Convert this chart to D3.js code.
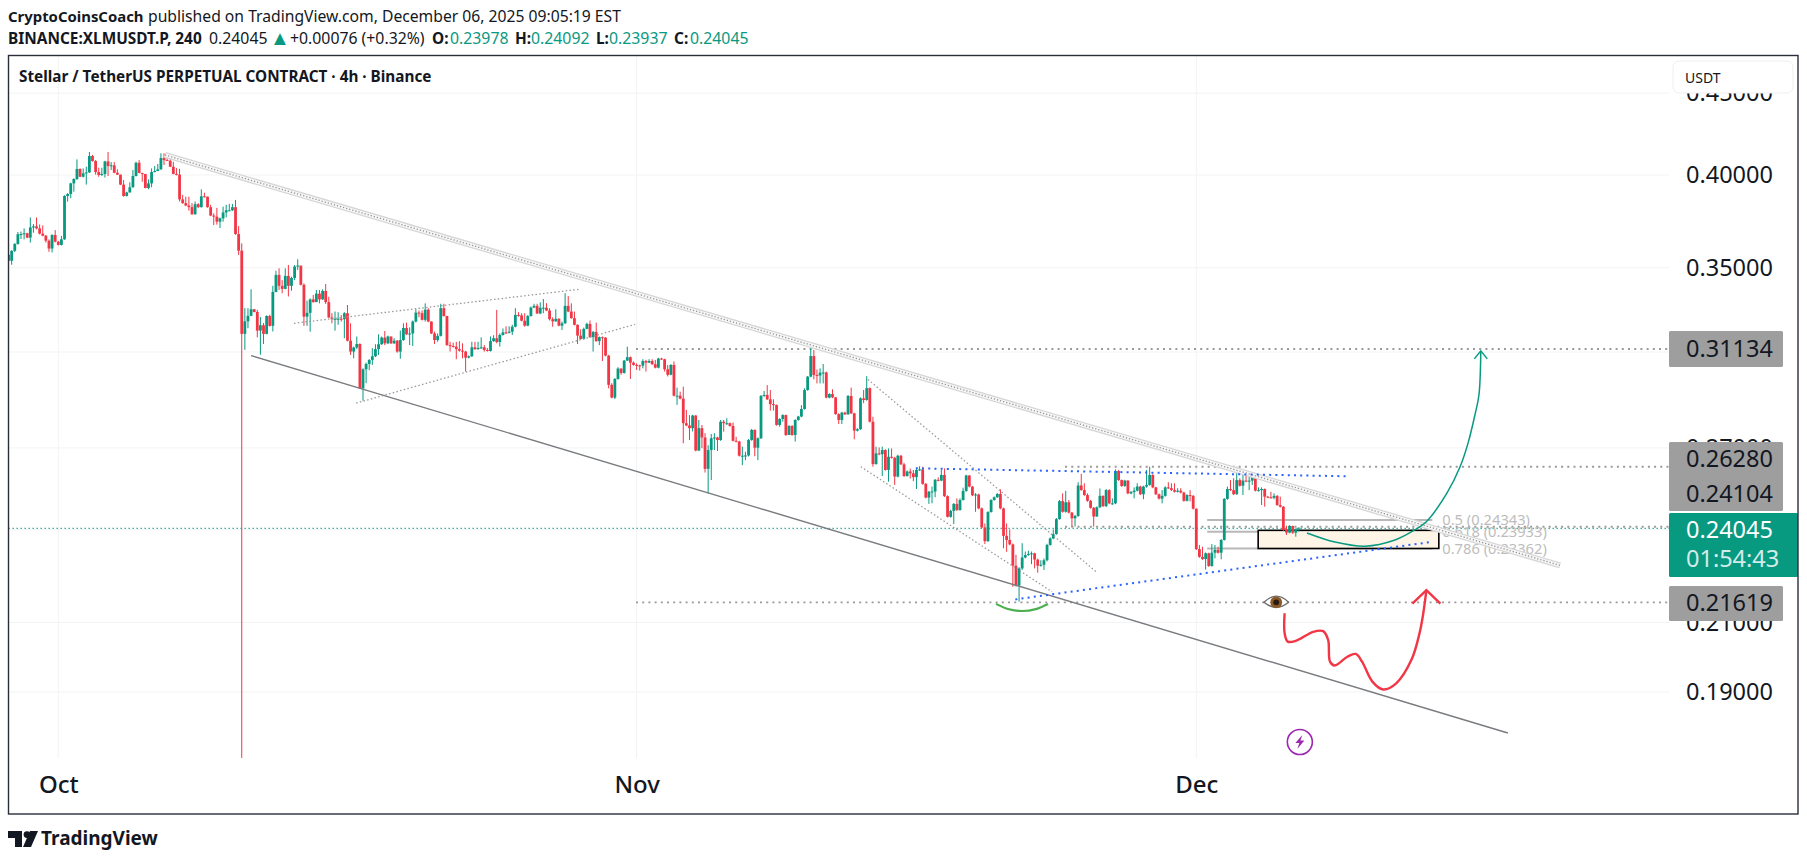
<!DOCTYPE html>
<html>
<head>
<meta charset="utf-8">
<title>XLMUSDT.P 4h</title>
<script src="https://cdn.jsdelivr.net/npm/d3@7"></script>
<style>
html, body { margin: 0; background: #fff; }
svg { display: block; }
text { font-family: "Noto Sans", sans-serif; }
</style>
</head>
<body>
<svg id="chart" width="1807" height="861"></svg>
<script>
// 4h candles, one close / high / low per bar (open = previous close)
var firstOpen = .3566;
var closes = [
.3535,.3586,.3622,.3673,.3674,.3678,.3655,.3709,.3715,.3704,
.3676,.3665,.3639,.3598,.3669,.3634,.3617,.3646,.3881,.3892,
.3952,.3977,.4035,.3990,.4010,.4015,.4111,.4081,.4017,.4000,
.4006,.4079,.4052,.4056,.4013,.4002,.3945,.3881,.3901,.3930,
.3994,.4071,.4012,.4006,.3926,.3952,.4017,.4023,.4033,.4099,
.4087,.4083,.4048,.4006,.4002,.3862,.3841,.3828,.3819,.3780,
.3835,.3819,.3879,.3877,.3819,.3773,.3767,.3740,.3758,.3790,
.3802,.3802,.3819,.3674,.3587,.3182,.3240,.3266,.3297,.3284,
.3197,.3222,.3182,.3265,.3219,.3380,.3464,.3410,.3395,.3459,
.3410,.3449,.3506,.3511,.3415,.3262,.3280,.3344,.3331,.3372,
.3344,.3385,.3331,.3258,.3250,.3252,.3252,.3250,.3278,.3151,
.3102,.3120,.3136,.2942,.3024,.3047,.3065,.3081,.3113,.3135,
.3165,.3139,.3170,.3139,.3151,.3102,.3154,.3209,.3180,.3184,
.3239,.3281,.3278,.3247,.3295,.3239,.3184,.3154,.3173,.3302,
.3265,.3131,.3127,.3124,.3113,.3106,.3102,.3075,.3081,.3121,
.3113,.3118,.3121,.3109,.3105,.3149,.3162,.3145,.3177,.3189,
.3187,.3192,.3215,.3270,.3268,.3243,.3220,.3265,.3305,.3313,
.3277,.3304,.3304,.3291,.3250,.3240,.3252,.3220,.3231,.3313,
.3286,.3255,.3224,.3174,.3159,.3205,.3228,.3167,.3191,.3149,
.3167,.3165,.3084,.2957,.2903,.2982,.3027,.3008,.3062,.3077,
.3053,.3043,.3041,.3040,.3060,.3053,.3060,.3046,.3031,.3071,
.3068,.3024,.3000,.3043,.2911,.2911,.2899,.2798,.2789,.2778,
.2829,.2690,.2778,.2741,.2620,.2692,.2738,.2741,.2731,.2804,
.2798,.2798,.2787,.2728,.2725,.2670,.2670,.2671,.2731,.2771,
.2701,.2738,.2910,.2914,.2896,.2876,.2872,.2791,.2815,.2831,
.2751,.2787,.2751,.2811,.2825,.2856,.2935,.2992,.3082,.2999,
.2997,.3009,.3010,.2903,.2918,.2904,.2835,.2811,.2841,.2834,
.2910,.2838,.2768,.2774,.2900,.2893,.2943,.2804,.2638,.2679,
.2676,.2692,.2616,.2666,.2662,.2591,.2670,.2637,.2593,.2610,
.2603,.2589,.2616,.2618,.2564,.2514,.2535,.2536,.2579,.2576,
.2597,.2519,.2445,.2466,.2491,.2469,.2505,.2538,.2595,.2554,
.2522,.2525,.2475,.2408,.2361,.2462,.2505,.2515,.2527,.2475,
.2379,.2365,.2350,.2279,.2215,.2270,.2306,.2314,.2318,.2320,
.2299,.2279,.2282,.2297,.2348,.2370,.2385,.2437,.2501,.2463,
.2497,.2460,.2440,.2448,.2558,.2541,.2523,.2502,.2477,.2446,
.2479,.2520,.2483,.2541,.2493,.2493,.2612,.2578,.2556,.2576,
.2529,.2534,.2539,.2554,.2526,.2554,.2560,.2597,.2551,.2526,
.2510,.2520,.2551,.2548,.2541,.2535,.2539,.2532,.2502,.2523,
.2520,.2474,.2334,.2308,.2301,.2320,.2278,.2322,.2331,.2322,
.2365,.2509,.2545,.2541,.2526,.2578,.2557,.2576,.2575,.2576,
.2593,.2539,.2541,.2545,.2517,.2515,.2513,.2520,.2487,.2481,
.2399,.2390,.2413,.2390,.2402,.24045];
var highs = [
.3566,.3590,.3626,.3685,.3687,.3704,.3681,.3763,.3727,.3763,
.3725,.3720,.3669,.3646,.3673,.3695,.3638,.3664,.3885,.3897,
.3956,.3981,.4091,.4038,.4038,.4048,.4135,.4117,.4087,.4042,
.4042,.4083,.4135,.4075,.4075,.4033,.4002,.3971,.3905,.3958,
.4029,.4077,.4087,.4012,.4006,.3975,.4038,.4052,.4064,.4127,
.4127,.4117,.4103,.4077,.4040,.4036,.3887,.3877,.3877,.3841,
.3850,.3841,.3918,.3899,.3877,.3832,.3785,.3815,.3762,.3822,
.3832,.3837,.3837,.3859,.3716,.3625,.3302,.3302,.3393,.3297,
.3294,.3260,.3232,.3268,.3271,.3410,.3485,.3497,.3438,.3497,
.3514,.3455,.3514,.3543,.3456,.3422,.3338,.3349,.3365,.3390,
.3390,.3393,.3419,.3357,.3278,.3286,.3283,.3270,.3283,.3317,
.3231,.3124,.3170,.3139,.3028,.3053,.3068,.3117,.3135,.3180,
.3170,.3195,.3174,.3170,.3162,.3154,.3197,.3231,.3234,.3212,
.3244,.3297,.3291,.3291,.3325,.3302,.3240,.3192,.3184,.3323,
.3323,.3266,.3146,.3142,.3146,.3149,.3139,.3105,.3085,.3146,
.3146,.3146,.3166,.3131,.3118,.3170,.3176,.3294,.3184,.3207,
.3217,.3217,.3224,.3302,.3283,.3278,.3278,.3270,.3310,.3323,
.3323,.3330,.3346,.3326,.3302,.3259,.3297,.3254,.3239,.3374,
.3360,.3325,.3286,.3226,.3203,.3211,.3234,.3244,.3195,.3234,
.3170,.3170,.3167,.3087,.2964,.2986,.3033,.3028,.3065,.3124,
.3080,.3058,.3050,.3044,.3068,.3065,.3068,.3068,.3065,.3074,
.3074,.3070,.3043,.3046,.3058,.2945,.2928,.2949,.2852,.2831,
.2832,.2831,.2811,.2791,.2758,.2711,.2755,.2758,.2744,.2811,
.2811,.2818,.2801,.2801,.2744,.2728,.2705,.2685,.2735,.2775,
.2773,.2741,.2914,.2931,.2956,.2935,.2896,.2874,.2818,.2834,
.2833,.2790,.2790,.2814,.2828,.2872,.2942,.2995,.3116,.3109,
.3023,.3028,.3047,.3014,.2921,.2938,.2906,.2838,.2844,.2845,
.2914,.2945,.2840,.2778,.2904,.2935,.2994,.2946,.2824,.2705,
.2702,.2705,.2695,.2698,.2698,.2666,.2674,.2673,.2643,.2614,
.2621,.2616,.2619,.2630,.2628,.2567,.2538,.2554,.2582,.2588,
.2616,.2622,.2522,.2470,.2494,.2511,.2511,.2550,.2598,.2597,
.2556,.2530,.2528,.2478,.2422,.2465,.2508,.2518,.2530,.2544,
.2478,.2422,.2401,.2353,.2315,.2274,.2354,.2326,.2329,.2326,
.2322,.2302,.2297,.2303,.2352,.2374,.2401,.2441,.2505,.2529,
.2538,.2505,.2462,.2452,.2570,.2601,.2566,.2529,.2505,.2480,
.2482,.2547,.2522,.2545,.2544,.2511,.2618,.2616,.2580,.2579,
.2578,.2538,.2551,.2566,.2557,.2557,.2616,.2628,.2600,.2553,
.2528,.2541,.2555,.2570,.2566,.2566,.2548,.2548,.2535,.2526,
.2541,.2523,.2475,.2348,.2342,.2323,.2322,.2351,.2348,.2342,
.2368,.2512,.2554,.2578,.2585,.2628,.2585,.2603,.2607,.2610,
.2603,.2597,.2551,.2551,.2547,.2520,.2535,.2529,.2523,.2517,
.2483,.2414,.2416,.2414,.2405,.24092];
var lows = [
.3530,.3515,.3580,.3618,.3648,.3646,.3652,.3629,.3681,.3699,
.3672,.3662,.3629,.3581,.3578,.3630,.3614,.3614,.3644,.3850,
.3868,.3905,.3971,.3988,.3986,.3945,.4012,.4078,.4002,.3990,
.3994,.3985,.3994,.4029,.4010,.4000,.3942,.3877,.3878,.3900,
.3928,.3992,.4010,.3961,.3924,.3919,.3930,.4015,.4022,.4030,
.4058,.4082,.4046,.4004,.3998,.3850,.3838,.3825,.3800,.3778,
.3778,.3815,.3817,.3874,.3816,.3770,.3722,.3724,.3706,.3740,
.3763,.3797,.3798,.3670,.3565,.1728,.3110,.3208,.3264,.3282,
.3166,.3088,.3136,.3180,.3216,.3193,.3378,.3390,.3374,.3393,
.3358,.3386,.3438,.3489,.3412,.3219,.3219,.3192,.3328,.3333,
.3325,.3342,.3322,.3255,.3231,.3197,.3224,.3239,.3162,.3148,
.3087,.3072,.3113,.2940,.2890,.2964,.3020,.3043,.3078,.3087,
.3132,.3131,.3136,.3136,.3136,.3097,.3070,.3150,.3177,.3131,
.3127,.3235,.3259,.3244,.3239,.3236,.3181,.3136,.3146,.3170,
.3262,.3128,.3102,.3120,.3068,.3102,.3072,.3014,.3072,.3078,
.3110,.3110,.3114,.3102,.3102,.3102,.3146,.3139,.3124,.3174,
.3181,.3184,.3177,.3212,.3262,.3240,.3215,.3217,.3262,.3302,
.3274,.3274,.3278,.3288,.3244,.3215,.3238,.3217,.3200,.3228,
.3283,.3252,.3221,.3136,.3156,.3156,.3203,.3164,.3102,.3146,
.3131,.3060,.3081,.2942,.2900,.2897,.2979,.3000,.3005,.3060,
.2982,.3040,.3021,.3018,.3028,.3014,.3051,.3043,.3028,.3028,
.3065,.3014,.2993,.2998,.2908,.2873,.2896,.2718,.2786,.2731,
.2765,.2687,.2688,.2699,.2606,.2529,.2578,.2692,.2688,.2728,
.2764,.2791,.2784,.2725,.2722,.2667,.2634,.2653,.2667,.2728,
.2668,.2653,.2735,.2906,.2893,.2849,.2849,.2788,.2784,.2804,
.2747,.2751,.2748,.2725,.2808,.2822,.2853,.2932,.2989,.2980,
.2963,.2963,.2963,.2900,.2900,.2901,.2832,.2795,.2795,.2831,
.2832,.2835,.2734,.2765,.2771,.2880,.2890,.2801,.2628,.2636,
.2672,.2593,.2613,.2572,.2659,.2560,.2588,.2634,.2590,.2591,
.2584,.2574,.2545,.2612,.2561,.2511,.2491,.2493,.2515,.2573,
.2574,.2516,.2443,.2442,.2420,.2466,.2467,.2503,.2535,.2551,
.2519,.2463,.2472,.2405,.2351,.2358,.2460,.2503,.2513,.2472,
.2337,.2325,.2347,.2211,.2212,.2164,.2265,.2303,.2312,.2284,
.2270,.2256,.2276,.2265,.2293,.2346,.2368,.2383,.2435,.2460,
.2460,.2457,.2411,.2411,.2445,.2539,.2520,.2499,.2474,.2411,
.2446,.2476,.2480,.2480,.2490,.2488,.2490,.2575,.2553,.2553,
.2526,.2526,.2511,.2536,.2523,.2508,.2550,.2557,.2548,.2523,
.2507,.2493,.2517,.2545,.2538,.2532,.2532,.2529,.2499,.2500,
.2500,.2471,.2331,.2305,.2298,.2266,.2275,.2276,.2303,.2319,
.2300,.2363,.2506,.2538,.2523,.2524,.2554,.2523,.2570,.2541,
.2560,.2536,.2536,.2487,.2481,.2512,.2510,.2508,.2484,.2478,
.2396,.2382,.2388,.2386,.2376,.23937];

// axes
var priceTicks = [.45, .40, .35, .31, .27, .24, .21, .19];
var monthBars = [16, 202, 382];
var monthNames = ["Oct", "Nov", "Dec"];

// levels and drawings, as [bar, price]
var lastPrice = .24045;
var levelTop = .26280, levelMid = .24104, levelLow = .21619, levelHigh = .31134;
var fibLevels = [.24343, .23933, .23362];
var fibLabels = ["0.5 (0.24343)", "0.618 (0.23933)", "0.786 (0.23362)"];
var fibBars = [385.5, 457.9];
var zoneBox = [[401.9, .2398], [460, .23362]];
var mainTrend = [[50.3, .4117], [499, .2280]];
var channelLine = [[78, .3084], [482.2, .1791]];
var wedgeUpper = [[91.8, .3231], [183.5, .3393]];
var wedgeLower = [[111.8, .2880], [201.5, .3226]];
var fallUpper = [[276.4, .2980], [349.7, .2260]];
var fallLower = [[274.1, .2628], [335.6, .2195]];
var blueTop = [[291.8, .2622], [431, .2592]];
var blueLow = [[323.8, .2171], [458.1, .2359]];
var greenSmile = [[317.6, .2157], [321.4, .2141], [326, .2135], [330.4, .2141], [334.3, .2157]];
var upCurve = [[417.6, .2389], [426.6, .2358], [436.3, .2344], [445.9, .2365], [451.7, .2396], [455.9, .2427],
    [462.6, .2530], [466.8, .2627], [469.4, .2719], [471.6, .2831], [472.9, .2914], [473.5, .3105]];
var redPath = [[410.4, .2128], [410.4, .2068], [411.4, .2043], [414.2, .2046], [419.6, .2072], [422.8, .2074],
    [424.4, .2048], [425, .1985], [426.5, .1974], [430.6, .1999], [433.3, .2007], [435.3, .1985], [438.7, .1928],
    [442.1, .1907], [446.3, .1924], [451.2, .1990], [453.8, .2068], [455, .2128], [456, .2200]];
var eyeSpot = [407.7, .21619];
var boltSpot = [415.3, .1768];

var opens = closes.map(function(c, i) { return i === 0 ? firstOpen : closes[i - 1]; });

var GREEN = "#089981", RED = "#F23645", INK = "#131722", GRID = "#f2f3f4", TAG = "#9e9e9e";
var paneRight = 1669, paneTop = 56, paneBottom = 758;

var svg = d3.select("#chart");

// log price scale and bar scale
var y = d3.scaleLog().domain([.40, .19]).range([175, 692]);
var x = d3.scaleLinear().domain([16, 382]).range([58.3, 1196.3]);

function px(p) { return x(p[0]); }
function py(p) { return y(p[1]); }
var straight = d3.line().x(px).y(py);
var smooth = d3.line().x(px).y(py).curve(d3.curveCatmullRom.alpha(0.5));

svg.append("clipPath").attr("id", "pane").append("rect")
    .attr("x", 9).attr("y", paneTop).attr("width", paneRight - 9).attr("height", paneBottom - paneTop);

// grid
svg.append("g").selectAll("line").data(priceTicks).enter().append("line")
    .attr("x1", 9).attr("x2", paneRight)
    .attr("y1", function(d) { return y(d); }).attr("y2", function(d) { return y(d); })
    .attr("stroke", GRID).attr("stroke-width", 1);
svg.append("g").selectAll("line").data(monthBars).enter().append("line")
    .attr("y1", paneTop).attr("y2", paneBottom)
    .attr("x1", function(d) { return x(d); }).attr("x2", function(d) { return x(d); })
    .attr("stroke", GRID).attr("stroke-width", 1);

// price axis, the tags and the USDT button sit on top of part of it
var yAxis = svg.append("g").attr("transform", "translate(1686,0)")
    .call(d3.axisRight(y).tickValues(priceTicks).tickFormat(d3.format(".5f")).tickSize(0).tickPadding(0));
yAxis.select(".domain").remove();
yAxis.selectAll("text").attr("fill", INK).style("font-size", "23.5px").style("font-family", "'Noto Sans'");

// month axis
var xAxis = svg.append("g").attr("transform", "translate(0,776)")
    .call(d3.axisBottom(x).tickValues(monthBars)
        .tickFormat(function(d, i) { return monthNames[i]; }).tickSize(0).tickPadding(0));
xAxis.select(".domain").remove();
xAxis.selectAll("text").attr("fill", INK).style("font-size", "24px").style("font-weight", "500").style("font-family", "'Noto Sans'");

// level lines
function level(price, fromBar, color, width, dash) {
    svg.append("line")
        .attr("x1", x(fromBar)).attr("x2", paneRight)
        .attr("y1", y(price)).attr("y2", y(price))
        .attr("stroke", color).attr("stroke-width", width).attr("stroke-dasharray", dash);
}
level(lastPrice, 0, GREEN, 1.2, "1.2 2.8");
level(levelHigh, 201.8, "#9a9a9a", 1.8, "2 4.2");
level(levelLow, 201.8, "#9a9a9a", 1.8, "2 4.2");
level(levelTop, 339.8, "#9a9a9a", 1.8, "2 4.2");
level(levelMid, 339.8, "#9a9a9a", 1.8, "2 4.2");

// candles
var bars = closes.map(function(c, i) { return { i: i, o: opens[i], h: highs[i], l: lows[i], c: c }; });
var candles = svg.append("g").attr("clip-path", "url(#pane)");
candles.selectAll(".wick").data(bars).enter().append("line")
    .attr("class", "wick")
    .attr("x1", function(d) { return x(d.i); }).attr("x2", function(d) { return x(d.i); })
    .attr("y1", function(d) { return y(d.h); }).attr("y2", function(d) { return y(d.l); })
    .attr("stroke", function(d) { return d.c >= d.o ? GREEN : RED; })
    .attr("stroke-width", 1);
candles.selectAll(".body").data(bars).enter().append("rect")
    .attr("class", "body")
    .attr("x", function(d) { return x(d.i) - 1.4; })
    .attr("width", 2.8)
    .attr("y", function(d) { return y(Math.max(d.o, d.c)); })
    .attr("height", function(d) { return Math.max(1, Math.abs(y(d.o) - y(d.c))); })
    .attr("fill", function(d) { return d.c >= d.o ? GREEN : RED; });

// fib lines and box
svg.append("g").selectAll("line").data(fibLevels).enter().append("line")
    .attr("x1", x(fibBars[0])).attr("x2", x(fibBars[1]))
    .attr("y1", function(d) { return y(d); }).attr("y2", function(d) { return y(d); })
    .attr("stroke", "#b8b8b8").attr("stroke-width", 2);
svg.append("rect")
    .attr("x", x(zoneBox[0][0])).attr("y", y(zoneBox[0][1]))
    .attr("width", x(zoneBox[1][0]) - x(zoneBox[0][0]))
    .attr("height", y(zoneBox[1][1]) - y(zoneBox[0][1]))
    .attr("fill", "#fff5e7").attr("stroke", "#000").attr("stroke-width", 1.6);
// candles of the last few bars stay above the box
candles.raise();
svg.append("g").selectAll("text").data(fibLabels).enter().append("text")
    .attr("x", x(fibBars[1]) + 10)
    .attr("y", function(d, i) { return y(fibLevels[i]) + 5.5; })
    .attr("fill", "#bdbdbd").style("font-size", "14.7px")
    .text(function(d) { return d; });

// main falling trend, light band with a dotted core
function addPath(pts, gen, color, width, dash) {
    return svg.append("path").datum(pts).attr("d", gen).attr("fill", "none")
        .attr("stroke", color).attr("stroke-width", width).attr("stroke-dasharray", dash || null);
}
addPath(mainTrend, straight, "#d6d6d6", 6);
addPath(mainTrend, straight, "#f8f8f8", 3.4);
addPath(mainTrend, straight, "#949494", 1.3, "1.3 1.9");

addPath(channelLine, straight, "#787b7f", 1.4);
addPath(wedgeUpper, straight, "#9a9a9a", 1.3, "1.5 2.3");
addPath(wedgeLower, straight, "#9a9a9a", 1.3, "1.5 2.3");
addPath(fallUpper, straight, "#9a9a9a", 1.3, "1.5 2.3");
addPath(fallLower, straight, "#9a9a9a", 1.3, "1.5 2.3");
addPath(blueTop, straight, "#2962ff", 2, "2 4.2");
addPath(blueLow, straight, "#2962ff", 2, "2 4.2");
addPath(greenSmile, smooth, "#4caf50", 2.2);
addPath(upCurve, smooth, GREEN, 1.5);
addPath(redPath, smooth, RED, 2.4);

// arrow heads at the curve tips
function arrowHead(tip, dx, dy, color, width) {
    var tx = px(tip), ty = py(tip);
    svg.append("path").datum([[tx - dx, ty + dy], [tx, ty], [tx + dx, ty + dy]])
        .attr("d", d3.line()).attr("fill", "none")
        .attr("stroke", color).attr("stroke-width", width);
}
arrowHead(upCurve[upCurve.length - 1], 6.5, 8, GREEN, 1.5);
arrowHead(redPath[redPath.length - 1], 14, 13.5, RED, 2.4);

// eye marker
var eye = svg.append("g").attr("transform", "translate(" + px(eyeSpot) + "," + py(eyeSpot) + ") scale(1.12)");
eye.append("path").attr("d", "M-11,0 Q0,-11 11,0 Q0,9 -11,0Z").attr("fill", "#fff").attr("stroke", "#6b6b6b").attr("stroke-width", 1.2);
eye.append("circle").attr("r", 5.3).attr("fill", "#8a5a2b");
eye.append("circle").attr("r", 2.6).attr("fill", "#2a1a10");

// purple bolt marker
var bolt = svg.append("g").attr("transform", "translate(" + px(boltSpot) + "," + py(boltSpot) + ")");
bolt.append("ellipse").attr("rx", 12.5).attr("ry", 12.5).attr("fill", "#fff").attr("stroke", "#9c27b0").attr("stroke-width", 1.6);
bolt.append("path").attr("d", "M2.5,-7 L-4.5,1 L-0.5,1 L-2.5,7 L4.5,-1.5 L0.5,-1.5Z").attr("fill", "#9c27b0");

// price tags
function tagBox(top, bottom, right, color) {
    svg.append("rect").attr("x", paneRight).attr("y", top)
        .attr("width", right - paneRight).attr("height", bottom - top)
        .attr("rx", 1.5).attr("fill", color);
}
function tagText(label, cy, color, opacity) {
    svg.append("text").attr("x", 1686).attr("y", cy).attr("dy", "0.35em")
        .attr("fill", color).attr("opacity", opacity || 1).style("font-size", "23.5px").text(label);
}
tagBox(y(levelHigh) - 18, y(levelHigh) + 18, 1783, TAG);
tagText(d3.format(".5f")(levelHigh), y(levelHigh), INK);
tagBox(442, 511, 1783, TAG);
tagText(d3.format(".5f")(levelTop), 459, INK);
tagText(d3.format(".5f")(levelMid), 494, INK);
tagBox(513, 577, 1798, GREEN);
tagText(d3.format(".5f")(lastPrice), 530, "#fff");
tagText("01:54:43", 559, "#fff", 0.82);
tagBox(586, 621, 1783, TAG);
tagText(d3.format(".5f")(levelLow), 603, INK);

// USDT button
svg.append("rect").attr("x", 1673).attr("y", 61).attr("width", 120).attr("height", 32).attr("rx", 6)
    .attr("fill", "#fff").attr("stroke", "#eeeff1");
svg.append("text").attr("x", 1685).attr("y", 83).attr("fill", INK).style("font-size", "14px").text("USDT");

// frame
svg.append("rect").attr("x", 8.5).attr("y", 55.5).attr("width", 1789.5).attr("height", 758.5)
    .attr("fill", "none").attr("stroke", "#2a2e39").attr("stroke-width", 1.4);

// header lines, each piece placed where the reference has it
function headPiece(label, xPos, yPos, size, weight, color) {
    svg.append("text").attr("x", xPos).attr("y", yPos).attr("fill", color || INK)
        .attr("font-weight", weight).style("font-size", size + "px").text(label);
}
headPiece("CryptoCoinsCoach", 8, 21.5, 14.9, 700);
headPiece("published on TradingView.com, December 06, 2025 09:05:19 EST", 148, 21.5, 15.7, 400);
headPiece("BINANCE:XLMUSDT.P, 240", 8, 44, 15.4, 700);
headPiece("0.24045", 209, 44, 15.8, 400);
headPiece("▲", 270, 45, 20, 400, GREEN);
headPiece("+0.00076 (+0.32%)", 290, 44, 15.8, 400);
headPiece("O:", 432, 44, 15.4, 700);
headPiece("0.23978", 450, 44, 15.8, 400, GREEN);
headPiece("H:", 515, 44, 15.4, 700);
headPiece("0.24092", 531, 44, 15.8, 400, GREEN);
headPiece("L:", 596, 44, 15.4, 700);
headPiece("0.23937", 609, 44, 15.8, 400, GREEN);
headPiece("C:", 674, 44, 15.4, 700);
headPiece("0.24045", 690, 44, 15.8, 400, GREEN);

svg.append("text").attr("x", 19).attr("y", 81.5).attr("fill", INK)
    .attr("font-weight", 700).style("font-size", "15.3px")
    .text("Stellar / TetherUS PERPETUAL CONTRACT · 4h · Binance");

// TradingView logo
svg.append("path").attr("d", "M8,831H22V847H15V838H8Z").attr("fill", INK);
svg.append("circle").attr("cx", 27).attr("cy", 834.6).attr("r", 3.4).attr("fill", INK);
svg.append("path").attr("d", "M30,831H38L31,847H23Z").attr("fill", INK);
svg.append("text").attr("x", 41).attr("y", 845).attr("fill", INK)
    .attr("font-weight", 700).style("font-size", "19px").text("TradingView");
</script>
</body>
</html>
